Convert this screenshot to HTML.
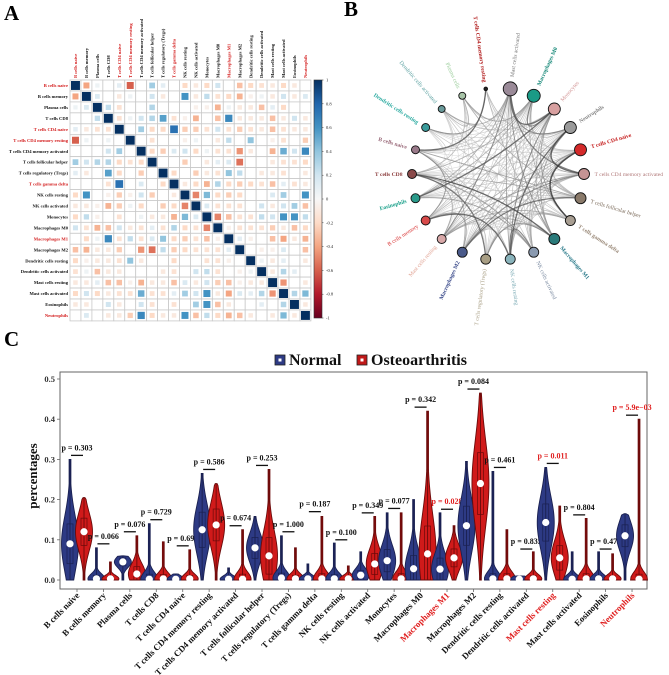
<!DOCTYPE html>
<html><head><meta charset="utf-8">
<style>
html,body{margin:0;padding:0;background:#fff;}
svg{display:block;font-family:"Liberation Serif",serif;}
</style></head>
<body>
<svg id="fig" width="669" height="675" viewBox="0 0 669 675" xmlns="http://www.w3.org/2000/svg">
<text x="4" y="20" font-size="21" font-weight="bold">A</text>
<text x="344" y="16" font-size="21" font-weight="bold">B</text>
<text x="4" y="346" font-size="21" font-weight="bold">C</text>
<g id="ga"></g>
<g id="gb"></g>
<g id="gc"></g>
</svg>
<script>
const cells = ["B cells naive","B cells memory","Plasma cells","T cells CD8","T cells CD4 naive","T cells CD4 memory resting","T cells CD4 memory activated","T cells follicular helper","T cells regulatory (Tregs)","T cells gamma delta","NK cells resting","NK cells activated","Monocytes","Macrophages M0","Macrophages M1","Macrophages M2","Dendritic cells resting","Dendritic cells activated","Mast cells resting","Mast cells activated","Eosinophils","Neutrophils"];
const redCells = ["B cells naive","T cells CD4 naive","T cells CD4 memory resting","T cells gamma delta","Macrophages M1","Neutrophils"];
// upper triangle of correlation matrix (row i, columns i+1..21)
const corrUpper = [
[-0.4,0.05,0,0.1,-0.6,0,0.35,0.1,0,-0.2,-0.1,-0.2,0.2,0,-0.3,-0.2,-0.15,-0.1,-0.2,-0.1,0],
[0.15,0,-0.1,0.05,0,0.2,-0.1,0,0.6,-0.1,0.25,-0.15,-0.2,-0.35,-0.05,0.05,-0.1,0.2,-0.1,0.15],
[0.25,-0.15,0,0,0.3,0,0,0,-0.05,-0.05,-0.35,0.05,-0.1,-0.1,-0.3,0.1,-0.2,0,0],
[-0.15,0.05,0.2,0.3,0.55,-0.15,-0.05,-0.35,0,-0.3,0.65,-0.1,-0.1,-0.1,-0.3,-0.1,0.2,-0.1],
[0,0.35,-0.2,-0.2,0.75,-0.25,-0.25,-0.15,0.2,-0.15,-0.25,-0.15,-0.1,-0.3,-0.15,-0.1,-0.1],
[0,-0.15,0,0,-0.05,0.05,0,-0.1,0.25,0,0.4,0,-0.05,-0.15,0,-0.25],
[-0.2,-0.25,0.15,0.2,-0.2,0.05,-0.15,-0.15,-0.45,-0.1,0,-0.35,0.5,0.2,0.65],
[0,0,-0.25,0,-0.1,0.1,0.15,-0.55,0,0,-0.1,-0.15,-0.15,-0.2],
[-0.2,0,-0.25,-0.1,-0.15,0.4,0.25,0,-0.1,-0.1,-0.15,0,-0.1],
[-0.1,-0.2,-0.35,0.3,-0.2,-0.25,-0.2,-0.15,-0.3,0.1,-0.15,-0.1],
[-0.5,0.45,-0.2,-0.25,-0.2,0,0,0.15,0.35,0,0.6],
[0.15,-0.15,-0.15,-0.15,0,0.2,-0.1,0.2,0.35,-0.3],
[-0.5,-0.3,-0.15,-0.15,0.25,0.2,0.6,0.6,0.25],
[-0.05,-0.15,-0.15,-0.15,-0.25,-0.1,-0.3,-0.2],
[0.1,-0.05,0,-0.3,-0.4,-0.1,-0.35],
[0,-0.05,-0.05,0.15,0,-0.3],
[0.05,-0.1,0.1,0,-0.1],
[-0.1,0.3,0.1,0],
[-0.45,0,-0.1],
[0.3,0.45],
[-0.1],
[]
];
const cbTicks = [1,0.8,0.6,0.4,0.2,0,-0.2,-0.4,-0.6,-0.8,-1];

// network
const netOrder = ["T cells CD4 memory resting","Mast cells activated","Macrophages M0","Monocytes","Neutrophils","T cells CD4 naive","T cells CD4 memory activated","T cells follicular helper","T cells gamma delta","Macrophages M1","NK cells activated","NK cells resting","T cells regulatory (Tregs)","Macrophages M2","Mast cells resting","B cells memory","Eosinophils","T cells CD8","B cells naive","Dendritic cells resting","Dendritic cells activated","Plasma cells"];
const netColors = ["#222","#9a8a98","#1a9a86","#d8a0a0","#9a9a9a","#d42a2a","#c49494","#8a7a6a","#a89e92","#2a7a7a","#8a9ab0","#8ab4bc","#a89e84","#4a5a8a","#d8a8a8","#d84a4a","#2a9a8a","#8a4a4a","#9a7a8a","#3a9a9a","#6a9a9a","#a8c4a8"];
const netLabelColors = ["#b01818","#777","#1a8a7a","#d09090","#888","#c41a1a","#b07878","#776655","#998877","#2a7a8a","#7a8aa0","#7aaab4","#a89e84","#3a4a8a","#e0a090","#d83030","#1aa08a","#8a3a3a","#9a6a7a","#2aaaa0","#5aa0a0","#99cc99"];
const netSizes = [1.8,7,6.5,6,6,6,5.5,5.5,5,5.5,5,5,5,5,4.5,4.5,4.5,4.5,4,4,3.5,3.5];

// violin chart
const groupNames = ["Normal","Osteoarthritis"];
const normalMax = [0.30,0.08,0.06,0.14,0.015,0.265,0.03,0.158,0.11,0.04,0.092,0.07,0.167,0.2,0.167,0.295,0.27,0.01,0.28,0.07,0.07,0.165];
const normalMed = [0.09,0.003,0.045,0.002,0.002,0.125,0.002,0.08,0.005,0.003,0.003,0.012,0.048,0.028,0.027,0.135,0.003,0.002,0.143,0.002,0.003,0.11];
const oaMax = [0.205,0.045,0.11,0.095,0.075,0.24,0.125,0.275,0.08,0.158,0.035,0.158,0.167,0.42,0.135,0.465,0.125,0.07,0.184,0.153,0.065,0.40];
const oaMed = [0.12,0.003,0.015,0.003,0.003,0.137,0.002,0.06,0.003,0.003,0.003,0.04,0.003,0.065,0.055,0.24,0.003,0.003,0.055,0.003,0.003,0.002];
const pLabels = ["p = 0.303","p = 0.066","p = 0.076","p = 0.729","p = 0.693","p = 0.586","p = 0.674","p = 0.253","p = 1.000","p = 0.187","p = 0.100","p = 0.349","p = 0.077","p = 0.342","p = 0.028","p = 0.084","p = 0.461","p = 0.835","p = 0.011","p = 0.804","p = 0.477","p = 5.9e\u221203"];
const pBar = [0.31,0.09,0.12,0.15,0.085,0.275,0.135,0.285,0.12,0.17,0.10,0.167,0.178,0.43,0.176,0.475,0.28,0.077,0.29,0.162,0.077,0.41];
const yTicks = [0,0.1,0.2,0.3,0.4,0.5];
const yTickLabels = ["0.0","0.1","0.2","0.3","0.4","0.5"];

const NS="http://www.w3.org/2000/svg";
function mk(tag,attrs,parent){const e=document.createElementNS(NS,tag);for(const k in attrs)e.setAttribute(k,attrs[k]);if(parent)parent.appendChild(e);return e;}

const n=cells.length;
const M=[];for(let i=0;i<n;i++){M.push(new Array(n).fill(0));M[i][i]=1;}
for(let i=0;i<n;i++)for(let k=0;k<corrUpper[i].length;k++){const j=i+1+k;M[i][j]=corrUpper[i][k];M[j][i]=corrUpper[i][k];}

const stops=[[-1,[103,0,31]],[-0.8,[178,24,43]],[-0.6,[214,96,77]],[-0.4,[244,165,130]],[-0.2,[253,219,199]],[0,[247,247,247]],[0.2,[209,229,240]],[0.4,[146,197,222]],[0.6,[67,147,195]],[0.8,[33,102,172]],[1,[5,48,97]]];
function col(v){v=Math.max(-1,Math.min(1,v));for(let s=0;s<stops.length-1;s++){const a=stops[s],b=stops[s+1];if(v<=b[0]){const t=(v-a[0])/(b[0]-a[0]);const c=a[1].map((x,q)=>Math.round(x+(b[1][q]-x)*t));return `rgb(${c[0]},${c[1]},${c[2]})`;}}return "rgb(5,48,97)";}

// ---------- Panel A ----------
(function(){
const g=document.getElementById('ga');
const x0=70,y0=80,cs=10.95;
const hx=i=>x0+i*cs, hy=i=>y0+i*cs;
for(let i=0;i<n;i++){
  const red=redCells.includes(cells[i]);
  const rl=mk('text',{x:hx(0)-2,y:hy(i)+cs/2+1.6,'font-size':4.6,'font-weight':'bold','text-anchor':'end',fill:red?'#d42020':'#111'},g);
  rl.textContent=cells[i];
  
  
  const cx=hx(i)+cs/2+1.6, cy=hy(0)-2;
  const cl=mk('text',{x:cx,y:cy,'font-size':4.6,'font-weight':'bold','text-anchor':'start',fill:red?'#d42020':'#111',transform:`rotate(-90 ${cx} ${cy})`},g);
  cl.textContent=cells[i];
  
  
  for(let j=0;j<n;j++){
    const r=M[i][j];
    const box=mk('rect',{x:hx(j),y:hy(i),width:cs,height:cs,fill:'#fff',stroke:'#c8c8c8','stroke-width':0.8},g);
    
    
    if(r!==0){
      const sz=(cs-2)*(i===j?1:Math.min(1,0.45+0.55*Math.abs(r)));
      const sq=mk('rect',{x:hx(j)+cs/2-sz/2,y:hy(i)+cs/2-sz/2,width:sz,height:sz,fill:col(r)},g);
      
      
    }
  }
}
const cbx=314,cby=80,cbh=238,cbw=8;
const defs=mk('defs',{},g);
const lg=mk('linearGradient',{id:'cbg',x1:0,y1:0,x2:0,y2:1},defs);
stops.slice().reverse().forEach(s=>{mk('stop',{offset:((1-s[0])/2*100)+'%','stop-color':col(s[0])},lg);});
const cb=mk('rect',{x:cbx,y:cby,width:cbw,height:cbh,fill:'url(#cbg)',stroke:'#333','stroke-width':0.6},g);


const cbY=v=>cby+(1-v)/2*cbh;
cbTicks.forEach(t=>{
  mk('line',{x1:cbx+cbw,x2:cbx+cbw+1.5,y1:cbY(t),y2:cbY(t),stroke:'#333','stroke-width':0.5},g);
  const tl=mk('text',{x:cbx+cbw+4,y:cbY(t)+1.5,'font-size':4.5,fill:'#222'},g);
  tl.textContent=String(t);
  
  
});
})();

// ---------- Panel B ----------
(function(){
const g=document.getElementById('gb');
const cx=498,cy=174,R=86;
const step=360/netOrder.length;
const ang=k=>(-98.18+step*k)*Math.PI/180;
const pos=k=>[cx+R*Math.cos(ang(k)),cy+R*Math.sin(ang(k))];
const idx=name=>cells.indexOf(name);
const edges=[];
for(let a=0;a<netOrder.length;a++)for(let b=a+1;b<netOrder.length;b++){
  const r=M[idx(netOrder[a])][idx(netOrder[b])];
  if(Math.abs(r)>=0.1)edges.push([a,b,r]);
}
edges.sort((p,q)=>Math.abs(p[2])-Math.abs(q[2]));
edges.forEach(e=>{
  const [x1,y1]=pos(e[0]),[x2,y2]=pos(e[1]);
  const mx=(x1+x2)/2,my=(y1+y2)/2;
  const qx=cx+(mx-cx)*0.35,qy=cy+(my-cy)*0.35;
  const w=Math.abs(e[2]);
  const c=Math.max(50,Math.round(232-w*250));
  const p=mk('path',{d:`M${x1},${y1} Q${qx},${qy} ${x2},${y2}`,fill:'none',stroke:`rgb(${c},${c},${c})`,'stroke-width':0.4+w*1.5,'stroke-opacity':0.8},g);
  
  
});
netOrder.forEach((name,k)=>{
  const [x,y]=pos(k);
  const c=mk('circle',{cx:x,cy:y,r:netSizes[k],fill:netColors[k],stroke:'#111','stroke-width':0.9},g);
  
  
  const a=ang(k);const deg=a*180/Math.PI;
  const lr=R+netSizes[k]+5;
  const lx=cx+lr*Math.cos(a),ly=cy+lr*Math.sin(a);
  const right=Math.cos(a)>=-0.01;
  const rot=right?deg:deg+180;
  const bold=redCells.includes(name)||["Macrophages M0","Dendritic cells resting","Eosinophils","T cells CD8","Macrophages M2"].includes(name);
  const t=mk('text',{x:lx,y:ly+1.8,'font-size':5.6,'font-weight':bold?'bold':'normal',fill:netLabelColors[k],'text-anchor':right?'start':'end',transform:`rotate(${rot} ${lx} ${ly})`},g);
  t.textContent=name;
  
  
});
})();

// ---------- Panel C ----------
(function(){
const g=document.getElementById('gc');
const L=60,T=372,W=587,H=217;
const yC=v=>580-v*402;
const xC=i=>77+i*26.43;
const frame=mk('rect',{x:L,y:T,width:W,height:H,fill:'#fff',stroke:'#666','stroke-width':1},g);


yTicks.forEach((t,i)=>{
  mk('line',{x1:L-3,x2:L,y1:yC(t),y2:yC(t),stroke:'#666','stroke-width':0.8},g);
  const tl=mk('text',{x:L-5,y:yC(t)+3,'font-size':8.5,'font-weight':'bold','text-anchor':'end',fill:'#333'},g);
  tl.textContent=yTickLabels[i];
  
  
});
const yt=mk('text',{x:37,y:476,'font-size':13,'font-weight':'bold','text-anchor':'middle',fill:'#111',transform:'rotate(-90 37 476)'},g);
yt.textContent='percentages';



function violin(xc,mx,md,fill,stroke,name){
  const s=md<0.01?Math.max(0.012,Math.min(0.22*mx,0.025)):Math.max(0.018,0.33*mx);
  const Wm=8.5;
  const N=50;const left=[],rightp=[];
  for(let k=0;k<=N;k++){
    const v=mx*k/N;
    let hw=Wm*Math.exp(-Math.pow((v-md)/s,2));
    hw=Math.max(hw,0.9);
    if(k===N)hw=0.9;
    left.push([xc-hw,yC(v)]);rightp.push([xc+hw,yC(v)]);
  }
  const pts=left.concat(rightp.reverse());
  const d='M'+pts.map(p=>p[0].toFixed(2)+','+p[1].toFixed(2)).join(' L')+' Z';
  const p=mk('path',{d:d,fill:fill,stroke:stroke,'stroke-width':0.9},g);
  
  
  mk('line',{x1:xc,x2:xc,y1:yC(0),y2:yC(mx),stroke:stroke,'stroke-width':0.9},g);
  const q1=Math.max(0,md-0.5*s),q3=Math.min(mx,md+0.5*s);
  mk('rect',{x:xc-3,y:yC(q3),width:6,height:yC(q1)-yC(q3),fill:'none',stroke:stroke,'stroke-width':0.7},g);
  const dot=mk('circle',{cx:xc,cy:yC(md),r:3.6,fill:'#fff'},g);
  
  
}
const redX=["Macrophages M1","Mast cells resting","Neutrophils"];
cells.forEach((c,i)=>{
  const xc=xC(i);
  violin(xc-7,normalMax[i],normalMed[i],'#2d3a84','#1a2050','violin-normal');
  violin(xc+7,oaMax[i],oaMed[i],'#d01a1a','#6a0a0a','violin-osteoarthritis');
  const sig=redX.includes(c);
  mk('line',{x1:xc-6,x2:xc+6,y1:yC(pBar[i]),y2:yC(pBar[i]),stroke:'#111','stroke-width':1.3},g);
  const pl=mk('text',{x:xc,y:yC(pBar[i])-5,'font-size':8,'font-weight':'bold','text-anchor':'middle',fill:sig?'#e02020':'#111'},g);
  pl.textContent=pLabels[i];
  
  
  mk('line',{x1:xc,x2:xc,y1:T+H,y2:T+H+3,stroke:'#666','stroke-width':0.8},g);
  const lx=xc+3,ly=T+H+7;
  const xl=mk('text',{x:lx,y:ly,'font-size':8.8,'font-weight':'bold','text-anchor':'end',fill:sig?'#e02020':'#111',transform:`rotate(-45 ${lx} ${ly})`},g);
  xl.textContent=c;
  
  
});
const lgItems=[[275,groupNames[0],'#2d3a84'],[357,groupNames[1],'#c01818']];
lgItems.forEach(it=>{
  const r=mk('rect',{x:it[0],y:355,width:10,height:10,fill:it[2],stroke:'#222','stroke-width':0.8},g);
  
  
  mk('rect',{x:it[0]+3.5,y:358.5,width:3,height:3,fill:'#fff'},g);
  const t=mk('text',{x:it[0]+14,y:365,'font-size':16,'font-weight':'bold',fill:'#111'},g);
  t.textContent=it[1];
  
  
});
})();
</script>
</body></html>
